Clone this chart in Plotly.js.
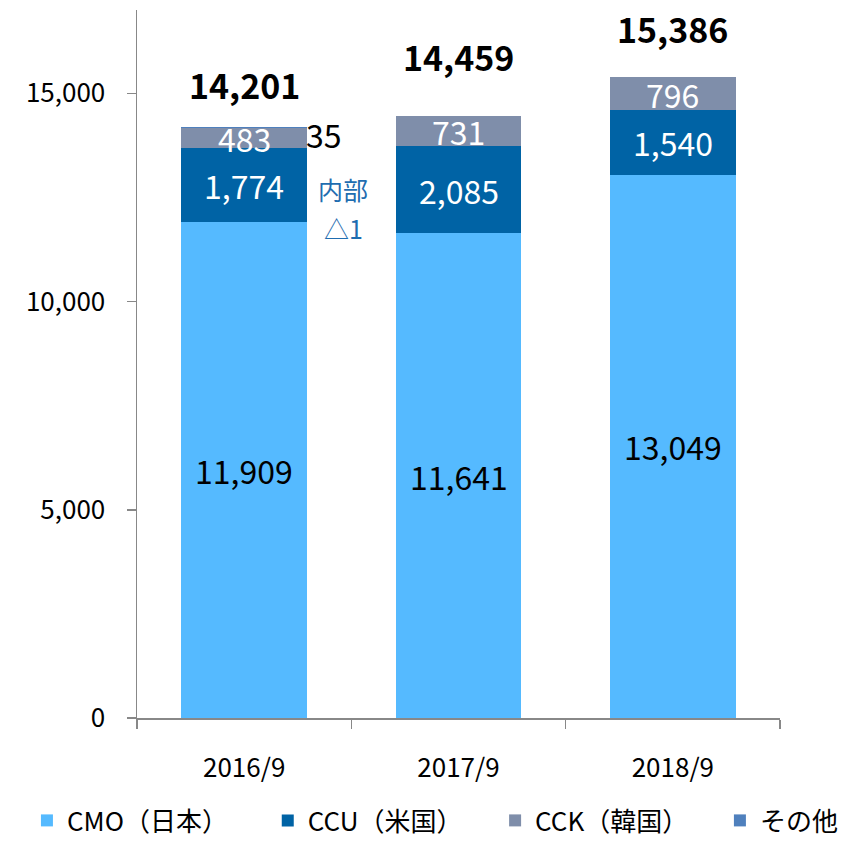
<!DOCTYPE html>
<html>
<head>
<meta charset="utf-8">
<script src="https://cdn.plot.ly/plotly-3.0.1.min.js"></script>
<style>html,body{margin:0;padding:0;background:#fff;}#chart{width:842px;height:844px;}</style>
</head>
<body>
<div id="chart"></div>
<script>
const categories = ['2016/9', '2017/9', '2018/9'];
const seriesNames = ['CMO（日本）', 'CCU（米国）', 'CCK（韓国）', 'その他'];
const cmo = [11909, 11641, 13049];
const ccu = [1774, 2085, 1540];
const cck = [483, 731, 796];
const other = [35, 2, 1];
const totals = [14201, 14459, 15386];
const noteLines = ['内部', '△1'];
const yTicks = [0, 5000, 10000, 15000];

const colors = ['#55BAFF', '#0063A5', '#7F8EAA', '#4F80BD'];
const labelColors = ['#000000', '#ffffff', '#ffffff', '#000000'];
const totalShifts = [16, 33, 22];
const legendX = [0.032, 0.318, 0.588, 0.855];
const legendIds = ['legend', 'legend2', 'legend3', 'legend4'];
const FONT = '"Noto Sans CJK JP", "Noto Sans", sans-serif';

const allSeries = [cmo, ccu, cck, other];
const traces = allSeries.map((vals, i) => ({
  type: 'bar',
  name: seriesNames[i],
  x: categories,
  y: vals,
  legend: legendIds[i],
  marker: {color: colors[i], line: {width: 0}},
  hoverinfo: 'skip'
}));

const fmt = v => v.toLocaleString('en-US');
const annotations = [];
for (let j = 0; j < categories.length; j++) {
  let base = 0;
  for (let i = 0; i < 3; i++) {
    const v = allSeries[i][j];
    annotations.push({
      x: categories[j], y: base + v / 2, xref: 'x', yref: 'y',
      text: fmt(v), showarrow: false,
      font: {family: FONT, size: 32, color: labelColors[i]},
      xanchor: 'center', yanchor: 'middle'
    });
    base += v;
  }
  annotations.push({
    x: categories[j], y: totals[j], xref: 'x', yref: 'y',
    text: '<b>' + fmt(totals[j]) + '</b>', showarrow: false,
    font: {family: FONT, size: 34, color: '#000000'},
    xanchor: 'center', yanchor: 'bottom', yshift: totalShifts[j]
  });
}
annotations.push({
  x: categories[0], y: totals[0], xref: 'x', yref: 'y',
  text: fmt(other[0]), showarrow: false,
  font: {family: FONT, size: 32, color: '#000000'},
  xanchor: 'left', yanchor: 'middle', xshift: 60, yshift: -7
});
annotations.push({
  x: categories[0], y: 12700, xref: 'x', yref: 'y',
  text: noteLines[0], showarrow: false,
  font: {family: FONT, size: 25, color: '#1F6DB0'},
  xanchor: 'center', yanchor: 'middle', xshift: 99
});
annotations.push({
  x: categories[0], y: 11760, xref: 'x', yref: 'y',
  text: noteLines[1], showarrow: false,
  font: {family: FONT, size: 25, color: '#1F6DB0'},
  xanchor: 'center', yanchor: 'middle', xshift: 99
});

const layout = {
  width: 842, height: 844,
  margin: {l: 137, r: 62, t: 10, b: 126, autoexpand: false},
  barmode: 'stack',
  bargap: 0.415,
  paper_bgcolor: '#ffffff',
  plot_bgcolor: '#ffffff',
  showlegend: true,
  font: {family: FONT, color: '#000000'},
  xaxis: {
    type: 'category',
    showgrid: false,
    showline: true, linecolor: '#888888', linewidth: 1.5,
    ticks: 'outside', tickson: 'boundaries', ticklen: 9, tickcolor: '#888888', tickwidth: 1.5,
    tickfont: {family: FONT, size: 26, color: '#000000'},
    ticklabelstandoff: 26,
    zeroline: false
  },
  yaxis: {
    range: [0, 17000],
    tickvals: yTicks,
    ticktext: yTicks.map(fmt),
    showgrid: false,
    showline: true, linecolor: '#888888', linewidth: 1.5,
    ticks: 'outside', ticklen: 9, tickcolor: '#888888', tickwidth: 1.5,
    tickfont: {family: FONT, size: 26, color: '#000000'},
    ticklabelstandoff: 16,
    zeroline: false
  },
  annotations: annotations
};
legendIds.forEach((id, i) => {
  layout[id] = {
    orientation: 'h',
    xref: 'container', yref: 'container',
    x: legendX[i], xanchor: 'left',
    y: -0.008, yanchor: 'bottom',
    font: {family: FONT, size: 26, color: '#000000'},
    itemwidth: 30,
    bgcolor: 'rgba(0,0,0,0)'
  };
});

Plotly.newPlot('chart', traces, layout, {staticPlot: true, displayModeBar: false});
</script>
</body>
</html>
